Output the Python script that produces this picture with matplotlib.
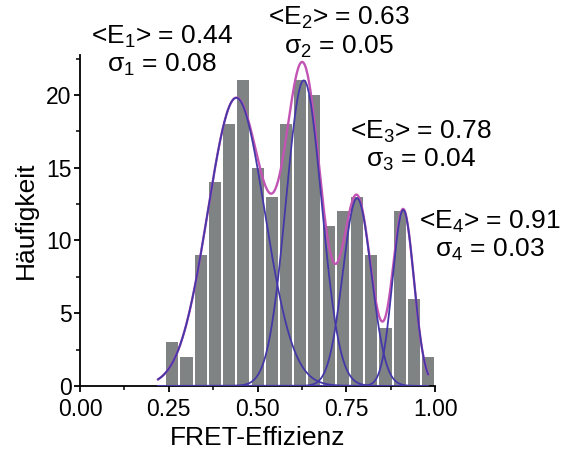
import numpy as np
import matplotlib
matplotlib.use("Agg")
import matplotlib.pyplot as plt
from matplotlib.ticker import MultipleLocator

plt.rcParams['font.family'] = ['Liberation Sans', 'DejaVu Sans']
plt.rcParams['mathtext.fontset'] = 'custom'
plt.rcParams['mathtext.rm'] = 'Liberation Sans'
plt.rcParams['mathtext.it'] = 'Liberation Sans'

# histogram
bin_centers = [0.26, 0.30, 0.34, 0.38, 0.42, 0.46, 0.50, 0.54, 0.58, 0.62,
               0.66, 0.70, 0.74, 0.78, 0.82, 0.86, 0.90, 0.94, 0.98]
counts = [3, 2, 9, 14, 18, 21, 15, 13, 18, 21, 20, 11, 12, 13, 9, 4, 12, 6, 2]

# gauss fit components
means = [0.44, 0.63, 0.78, 0.91]
sigmas = [0.08, 0.05, 0.04, 0.03]
amps = [19.8, 21.0, 12.9, 12.1]
fit_range = (0.22, 0.98)

labels = [r"<E$_1$> = 0.44" + "\n" + r"σ$_1$ = 0.08",
          r"<E$_2$> = 0.63" + "\n" + r"σ$_2$ = 0.05",
          r"<E$_3$> = 0.78" + "\n" + r"σ$_3$ = 0.04",
          r"<E$_4$> = 0.91" + "\n" + r"σ$_4$ = 0.03"]
label_pos = [(0.231, 23.0), (0.73, 24.3), (0.96, 16.5), (1.155, 10.3)]

fig = plt.figure(figsize=(5.63, 4.54), dpi=100)
ax = fig.add_axes([0.142, 0.150, 0.631, 0.729])

ax.bar(bin_centers, counts, width=0.034, color="#808383", zorder=1)

x = np.linspace(fit_range[0], fit_range[1], 400)
comps = [a * np.exp(-0.5 * ((x - m) / s) ** 2) for a, m, s in zip(amps, means, sigmas)]
ax.plot(x, np.sum(comps, axis=0), color="#c254b4", lw=1.7, zorder=2)
for c in comps:
    ax.plot(x, c, color="#4438a8", lw=1.3, zorder=3)

for txt, (tx, ty) in zip(labels, label_pos):
    ax.text(tx, ty, txt, ha="center", va="center", fontsize=19,
            linespacing=1.1, clip_on=False)

ax.set_xlim(0, 1.0)
ax.set_ylim(0, 22.75)
ax.xaxis.set_major_locator(MultipleLocator(0.25))
ax.xaxis.set_minor_locator(MultipleLocator(0.125))
ax.yaxis.set_major_locator(MultipleLocator(5))
ax.yaxis.set_minor_locator(MultipleLocator(2.5))
ax.xaxis.set_major_formatter(matplotlib.ticker.FormatStrFormatter("%.2f"))
ax.spines['top'].set_visible(False)
ax.spines['right'].set_visible(False)
for sp in ('left', 'bottom'):
    ax.spines[sp].set_linewidth(1.3)
ax.tick_params(which='major', length=4.5, width=1.3, labelsize=16.5)
ax.tick_params(axis='x', which='major', pad=4)
ax.tick_params(axis='y', which='major', pad=1.5)
ax.tick_params(which='minor', length=3, width=1.1)
ax.set_xlabel("FRET-Effizienz", fontsize=19, labelpad=4)
ax.set_ylabel("Häufigkeit", fontsize=19, labelpad=6)

fig.savefig("out.png", dpi=100)
